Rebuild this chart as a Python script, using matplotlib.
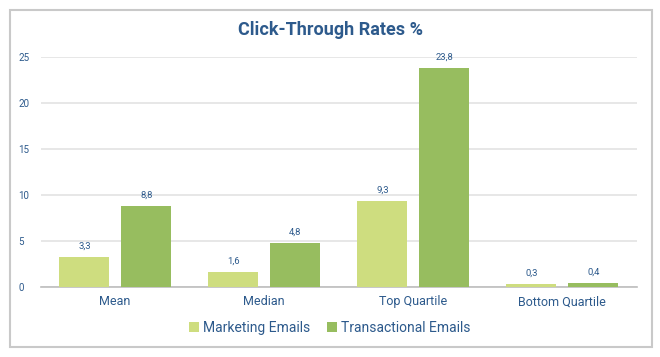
import numpy as np
import matplotlib
matplotlib.use("Agg")
import matplotlib.pyplot as plt
from matplotlib.patches import Rectangle

# Data
categories = ["Mean", "Median", "Top Quartile", "Bottom Quartile"]
marketing = [3.3, 1.6, 9.3, 0.3]
transactional = [8.8, 4.8, 23.8, 0.4]
series_names = ["Marketing Emails", "Transactional Emails"]

text_col = "#2D5A8C"
light_green = "#CEDD7F"
dark_green = "#97BD5F"

plt.rcParams["font.family"] = ["Roboto", "DejaVu Sans"]

fig = plt.figure(figsize=(6.6, 3.57), dpi=100)
fig.patch.set_facecolor("white")

# grey frame around the chart
fig.patches.append(Rectangle((10 / 660, 10 / 357), 642 / 660, 337 / 357,
                             transform=fig.transFigure, fill=False,
                             edgecolor="#C9C9C9", linewidth=1.5))

ax = fig.add_axes([40.5 / 660, 1 - 287 / 357, 596 / 660, 230 / 357])

x = np.arange(len(categories))
w = 0.335
b1 = ax.bar(x - 0.205, marketing, width=w, color=light_green, label=series_names[0], zorder=3)
b2 = ax.bar(x + 0.21, transactional, width=w, color=dark_green, label=series_names[1], zorder=3)

for bars, vals in [(b1, marketing), (b2, transactional)]:
    for bar, v in zip(bars, vals):
        ax.text(bar.get_x() + bar.get_width() / 2, v + 0.7, f"{v:.1f}".replace(".", ","),
                ha="center", va="bottom", fontsize=6.8, color=text_col)

ax.set_xlim(-0.5, len(categories) - 0.5)
ax.set_ylim(0, 25)
ax.set_yticks([0, 5, 10, 15, 20, 25])
ax.set_xticks(x)
ax.set_xticklabels(categories, fontsize=9, color=text_col)
ax.tick_params(axis="x", length=0, pad=6)
ax.tick_params(axis="y", colors=text_col, labelsize=7, length=0, pad=16)
for lab in ax.get_yticklabels():
    lab.set_horizontalalignment("left")

ax.grid(axis="y", color="#E3E3E3", linewidth=1.2, zorder=0)
for s in ["top", "right", "left"]:
    ax.spines[s].set_visible(False)
ax.spines["bottom"].set_color("#BDBDBD")
ax.spines["bottom"].set_linewidth(1.2)

fig.text(0.5, 1 - 30 / 357, "Click-Through Rates %", ha="center", va="center",
         fontsize=13, fontweight="bold", color=text_col)

leg = fig.legend(loc="center", bbox_to_anchor=(0.5, 1 - 328 / 357), ncol=2, frameon=False,
                 fontsize=10, handlelength=0.7, handleheight=0.7, handletextpad=0.3,
                 columnspacing=1.2)
for t in leg.get_texts():
    t.set_color(text_col)

plt.savefig("out.png", dpi=100, facecolor="white")
